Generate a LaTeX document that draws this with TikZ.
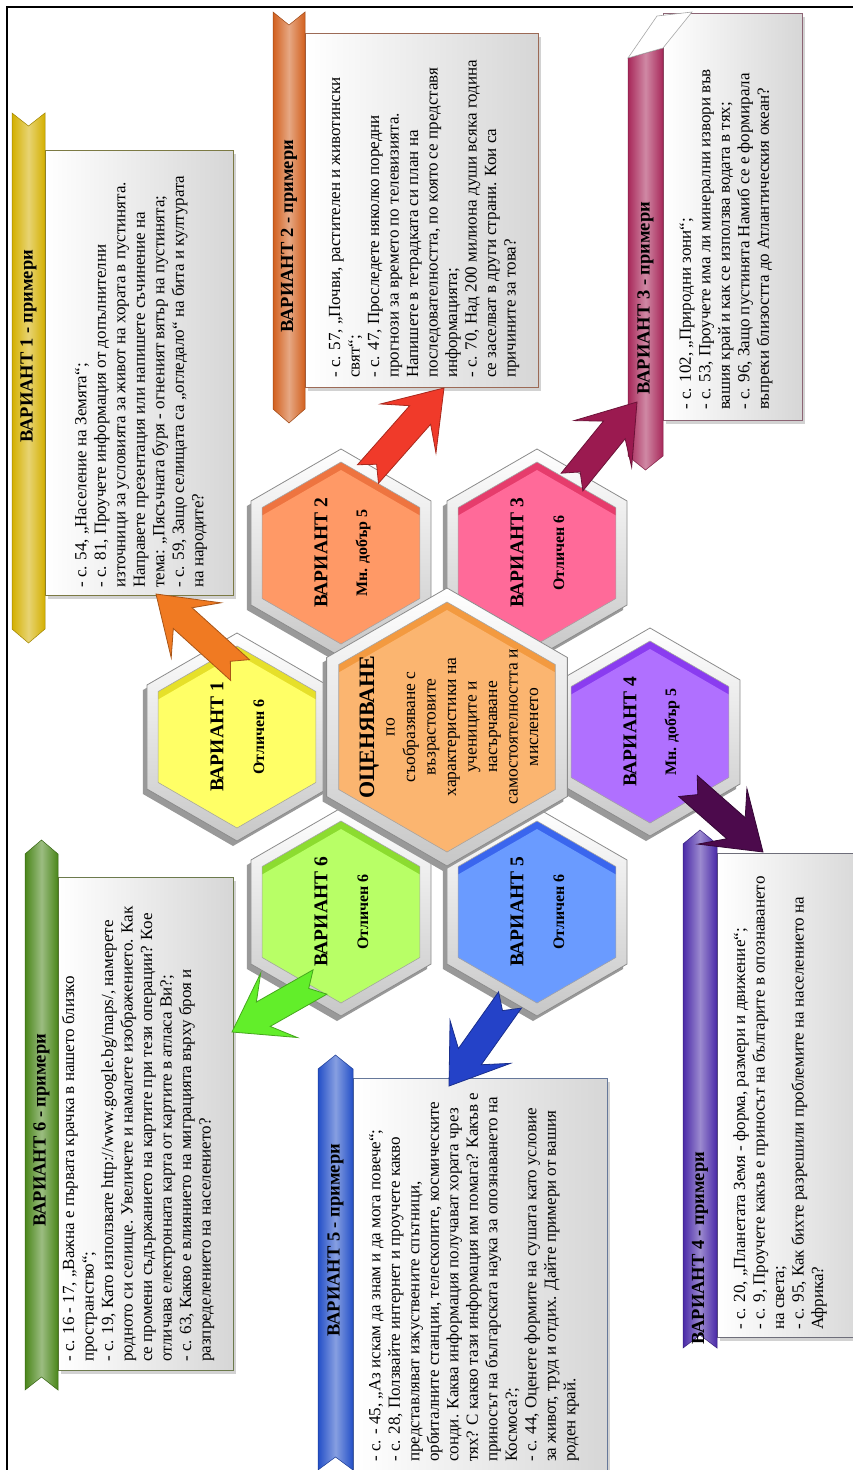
\documentclass[tikz,border=0pt]{standalone}
\usepackage{fontspec}
\setmainfont{Liberation Serif}
\usetikzlibrary{calc,shadows}
\definecolor{f1}{HTML}{FFFF66}\definecolor{k1}{HTML}{E6E02A}
\definecolor{f2}{HTML}{FF9966}\definecolor{k2}{HTML}{EE7440}
\definecolor{f3}{HTML}{FF6A99}\definecolor{k3}{HTML}{E63C6C}
\definecolor{f4}{HTML}{B070FF}\definecolor{k4}{HTML}{8A3CF0}
\definecolor{f5}{HTML}{6A9BFF}\definecolor{k5}{HTML}{3A66EE}
\definecolor{f6}{HTML}{B8FF66}\definecolor{k6}{HTML}{8CDC30}
\definecolor{fc}{HTML}{FBB570}\definecolor{kc}{HTML}{F39A40}
\definecolor{r1}{HTML}{D4B000}\definecolor{r2}{HTML}{D2601E}
\definecolor{r3}{HTML}{A8285A}\definecolor{r4}{HTML}{4A2AA8}
\definecolor{r5}{HTML}{2450C8}\definecolor{r6}{HTML}{4A861A}
\definecolor{bd1}{HTML}{7C7A44}\definecolor{bd2}{HTML}{9C6A56}
\definecolor{bd3}{HTML}{8C6474}\definecolor{bd4}{HTML}{6E6E7A}
\definecolor{bd5}{HTML}{66789A}\definecolor{bd6}{HTML}{6C7A4C}
\definecolor{a1}{HTML}{F07A22}\definecolor{a2}{HTML}{F03A2A}
\definecolor{a3}{HTML}{9B1A50}\definecolor{a4}{HTML}{4C0A4C}
\definecolor{a5}{HTML}{2442C8}\definecolor{a6}{HTML}{62EE2A}
\newcommand\hexagonpath[2]{(#1) ++(90:#2) -- ++(-30:#2) -- ++(-90:#2) -- ++(-150:#2) -- ++(150:#2) -- ++(90:#2) -- cycle}
\newcommand\hexcell[5]{%
  \fill[black!40] \hexagonpath{[xshift=-4pt,yshift=-5pt]#1}{#2};
  \path[top color=white, bottom color=black!22, draw=black!45, line width=0.8pt] \hexagonpath{#1}{#2};
  \begin{scope}
    \clip \hexagonpath{#1}{#3};
    \fill[#5] \hexagonpath{#1}{#3};
    \fill[#4] \hexagonpath{[yshift=-8pt]#1}{#3};
  \end{scope}
  \draw[black!35, line width=0.6pt] \hexagonpath{#1}{#3};
}
\newcommand\blockarrow[3]{%
  \path[#1] (#2) -- ($(#2)!54pt!(#3)!37pt!90:(#2)$) -- ($(#2)!36pt!(#3)!14pt!90:(#2)$)
   -- ($(#3)!14pt!90:(#2)$) -- ($(#3)!13pt!(#2)$) -- ($(#3)!14pt!-90:(#2)$)
   -- ($(#2)!36pt!(#3)!14pt!-90:(#2)$) -- ($(#2)!54pt!(#3)!37pt!-90:(#2)$) -- cycle;}
\begin{document}
\begin{tikzpicture}[x=1pt,y=-1pt,
  boxst/.style={draw=#1, line width=1.1pt, left color=white, right color=black!16, inner sep=0pt, anchor=north west,
    drop shadow={shadow xshift=2pt, shadow yshift=-3pt, opacity=0.35}},
  ribst/.style={left color=#1, right color=#1, middle color=#1!55!white, draw=#1!75!black, line width=0.5pt},
  htext/.style={rotate=90, anchor=west, inner sep=0pt, font=\bfseries\fontsize{18.5}{20}\selectfont},
  btext/.style={rotate=90, anchor=west, align=left, inner sep=0pt, font=\fontsize{17}{19.5}\selectfont},
  hlab/.style={rotate=90, inner sep=0pt, font=\bfseries\fontsize{19.5}{22}\selectfont},
  hsub/.style={rotate=90, inner sep=0pt, font=\bfseries\fontsize{16}{18}\selectfont},
  ctext/.style={rotate=90, align=center, inner sep=0pt, font=\fontsize{17.5}{20.5}\selectfont},
  arrowst/.style 2 args={fill=#1, draw=#2, line width=0.8pt, line join=miter}]
\useasboundingbox (0,0) rectangle (853,1470);
\fill[white] (0,0) rectangle (853,1470);
\draw[line width=2.4pt] (7,1472) -- (7,7) -- (855,7);

% boxes
\node[boxst=bd1, minimum width=188pt, minimum height=445pt] (b1) at (45,150) {};
\node[boxst=bd2, minimum width=233pt, minimum height=354pt] (b2) at (305,33) {};
\node[boxst=bd3, minimum width=139pt, minimum height=407pt] (b3) at (663,13) {};
\node[boxst=bd4, minimum width=150pt, minimum height=484pt] (b4) at (717,853) {};
\node[boxst=bd5, minimum width=254pt, minimum height=420pt] (b5) at (353,1078) {};
\node[boxst=bd6, minimum width=175pt, minimum height=493pt] (b6) at (58,877) {};

% ribbons
\path[ribst=r1] (12,113) -- (28.5,126) -- (45,113) -- (45,629) -- (28.5,643) -- (12,629) -- cycle;
\path[ribst=r2] (273,12) -- (289,25) -- (305,12) -- (305,409) -- (289,423) -- (273,409) -- cycle;
\path[ribst=r3] (628,58) -- (663,48) -- (663,456) -- (645.5,470) -- (628,456) -- cycle;
\path[fill=white, draw=black!35, line width=0.6pt] (628,58) -- (663,48) -- (692,12) -- (657,16) -- cycle;
\path[ribst=r4] (683,844) -- (700,830) -- (717,844) -- (717,1348) -- (700,1335) -- (683,1348) -- cycle;
\path[ribst=r5] (318,1069) -- (335.5,1055) -- (353,1069) -- (353,1470) -- (335.5,1457) -- (318,1470) -- cycle;
\path[ribst=r6] (25,854) -- (41.5,840) -- (58,854) -- (58,1390) -- (41.5,1377) -- (25,1390) -- cycle;

% headers
\node[htext] (t1) at (28.5,443) {ВАРИАНТ 1 - примери};
\node[htext] (t2) at (289,333) {ВАРИАНТ 2 - примери};
\node[htext] (t3) at (645.5,395) {ВАРИАНТ 3 - примери};
\node[htext] (t4) at (700,1345) {ВАРИАНТ 4 - примери};
\node[htext] (t5) at (335.5,1337) {ВАРИАНТ 5 - примери};
\node[htext] (t6) at (41.5,1227) {ВАРИАНТ 6 - примери};

% body texts
\node[btext] (x1) at (141,588) {- с. 54, „Население на Земята“;\\
- с. 81, Проучете информация от допълнителни\\
източници за условията за живот на хората в пустинята.\\
Направете презентация или напишете съчинение на\\
тема: „Пясъчната буря - огненият вятър на пустинята;\\
- с. 59, Защо селищата са „огледало“ на бита и културата\\
на народите?};
\node[btext] (x2) at (424,378) {- с. 57, „Почви, растителен и животински\\
свят“;\\
- с. 47, Проследете няколко поредни\\
прогнози за времето по телевизията.\\
Напишете в тетрадката си план на\\
последователността, по която се представя\\
информацията;\\
- с. 70, Над 200 милиона души всяка година\\
се заселват в други страни. Кои са\\
причините за това?};
\node[btext] (x3) at (726,410) {- с. 102, „Природни зони“;\\
- с. 53, Проучете има ли минерални извори във\\
вашия край и как се използва водата в тях;\\
- с. 96, Защо пустинята Намиб се е формирала\\
въпреки близостта до Атлантическия океан?};
\node[btext] (x4) at (780,1330) {- с. 20, „Планетата Земя - форма, размери и движение“;\\
- с. 9, Проучете какъв е приносът на българите в опознаването\\
на света;\\
- с. 95, Как бихте разрешили проблемите на населението на\\
Африка?};
\node[btext] (x5) at (474,1462) {- с. - 45, „Аз искам да знам и да мога повече“;\\
- с. 28, Ползвайте интернет и проучете какво\\
представляват изкуствените спътници,\\
орбиталните станции, телескопите, космическите\\
сонди. Каква информация получават хората чрез\\
тях? С какво тази информация им помага? Какъв е\\
приносът на българската наука за опознаването на\\
Космоса?;\\
- с. 44, Оценете формите на сушата като условие\\
за живот, труд и отдих. Дайте примери от вашия\\
роден край.};
\node[btext] (x6) at (138,1362) {- с. 16 - 17, „Важна е първата крачка в нашето близко\\
пространство“;\\
- с. 19, Като използвате http://www.google.bg/maps/, намерете\\
родното си селище. Увеличете и намалете изображението. Как\\
се промени съдържанието на картите при тези операции? Кое\\
отличава електронната карта от картите в атласа Ви?;\\
- с. 63, Какво е влиянието на миграцията върху броя и\\
разпределението на населението?};

% hexagons
\coordinate (v1) at (237,737);
\coordinate (v2) at (341,553);
\coordinate (v3) at (537,553);
\coordinate (v4) at (650,732);
\coordinate (v5) at (537,912);
\coordinate (v6) at (341,912);
\coordinate (c) at (447,727);
\hexcell{v1}{104}{91}{f1}{k1}
\hexcell{v2}{104}{91}{f2}{k2}
\hexcell{v3}{104}{91}{f3}{k3}
\hexcell{v4}{104}{91}{f4}{k4}
\hexcell{v5}{104}{91}{f5}{k5}
\hexcell{v6}{104}{91}{f6}{k6}
\hexcell{c}{139}{125}{fc}{kc}

\node[hlab] (l1) at ($(v1)+(-20,0)$) {ВАРИАНТ 1};
\node[hsub] (s1) at ($(v1)+(22,0)$) {Отличен 6};
\node[hlab] (l2) at ($(v2)+(-20,0)$) {ВАРИАНТ 2};
\node[hsub] (s2) at ($(v2)+(22,0)$) {Мн. добър 5};
\node[hlab] (l3) at ($(v3)+(-20,0)$) {ВАРИАНТ 3};
\node[hsub] (s3) at ($(v3)+(22,0)$) {Отличен 6};
\node[hlab] (l4) at ($(v4)+(-20,0)$) {ВАРИАНТ 4};
\node[hsub] (s4) at ($(v4)+(22,0)$) {Мн. добър 5};
\node[hlab] (l5) at ($(v5)+(-20,0)$) {ВАРИАНТ 5};
\node[hsub] (s5) at ($(v5)+(22,0)$) {Отличен 6};
\node[hlab] (l6) at ($(v6)+(-20,0)$) {ВАРИАНТ 6};
\node[hsub] (s6) at ($(v6)+(22,0)$) {Отличен 6};

\node[ctext] (ct) at ($(c)+(2,0)$) {{\bfseries\fontsize{22}{24}\selectfont ОЦЕНЯВАНЕ}\\
по\\ съобразяване с\\ възрастовите\\ характеристики на\\ учениците и\\ насърчаване\\ самостоятелността и\\ мисленето};

% arrows
\coordinate (a1p) at (156,594); \coordinate (a1t) at (240,670);
\coordinate (a2p) at (444,388); \coordinate (a2t) at (368,474);
\coordinate (a3p) at (637,402); \coordinate (a3t) at (572,482);
\coordinate (a4p) at (763,852); \coordinate (a4t) at (688,786);
\coordinate (a5p) at (449,1086); \coordinate (a5t) at (510,1000);
\coordinate (a6p) at (232,1032); \coordinate (a6t) at (320,982);
\blockarrow{arrowst={a1}{a1!70!black}}{a1p}{a1t}
\blockarrow{arrowst={a2}{a2!70!black}}{a2p}{a2t}
\blockarrow{arrowst={a3}{a3!70!black}}{a3p}{a3t}
\blockarrow{arrowst={a4}{a4!70!black}}{a4p}{a4t}
\blockarrow{arrowst={a5}{a5!70!black}}{a5p}{a5t}
\blockarrow{arrowst={a6}{a6!70!black}}{a6p}{a6t}
\end{tikzpicture}
\end{document}
